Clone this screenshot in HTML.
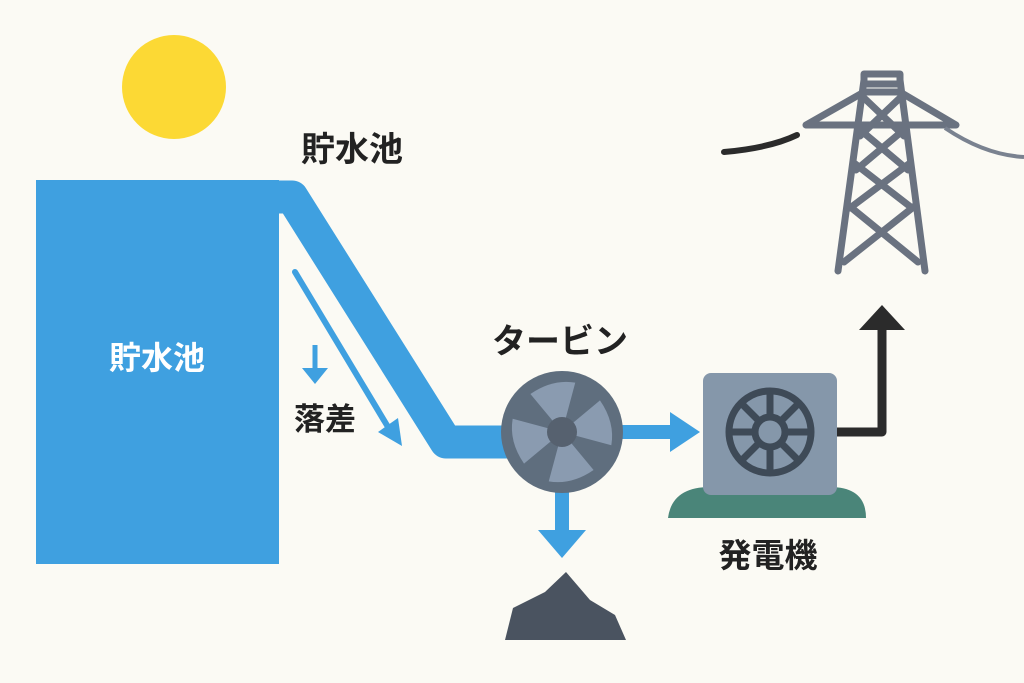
<!DOCTYPE html>
<html><head><meta charset="utf-8"><style>
html,body{margin:0;padding:0;background:#fbfaf4;}
svg{display:block}
text{font-family:"Liberation Sans","Noto Sans CJK JP",sans-serif;font-weight:bold;}
</style></head><body>
<svg width="1024" height="683" viewBox="0 0 1024 683" xmlns="http://www.w3.org/2000/svg">
<rect width="1024" height="683" fill="#fbfaf4"/>
<circle cx="174" cy="87" r="52" fill="#fcd934"/>
<rect x="36" y="180" width="243" height="384" fill="#3fa0e0"/>
<polyline points="250,197 292,197 446,442 520,442" fill="none" stroke="#3fa0e0" stroke-width="33" stroke-linejoin="round"/>
<rect x="262" y="181" width="17" height="383" fill="#3fa0e0"/>
<text x="157" y="369" font-size="32" fill="#fff" text-anchor="middle">貯水池</text>
<text x="352" y="161" font-size="34" fill="#222" text-anchor="middle">貯水池</text>
<line x1="295" y1="272" x2="391" y2="432" stroke="#3fa0e0" stroke-width="6" stroke-linecap="round"/>
<polygon points="378,432 402,446 398,418" fill="#3fa0e0"/>
<line x1="315" y1="345" x2="315" y2="370" stroke="#3fa0e0" stroke-width="5"/>
<polygon points="302,368 328,368 315,384" fill="#3fa0e0"/>
<text x="325" y="430" font-size="31" fill="#222" text-anchor="middle">落差</text>
<text x="560" y="353" font-size="34" fill="#222" text-anchor="middle">タービン</text>
<line x1="620" y1="432" x2="672" y2="432" stroke="#3fa0e0" stroke-width="14"/>
<polygon points="670,412 700,432 670,452" fill="#3fa0e0"/>
<line x1="562" y1="490" x2="562" y2="532" stroke="#3fa0e0" stroke-width="14"/>
<polygon points="538,530 586,530 562,558" fill="#3fa0e0"/>
<circle cx="562" cy="432" r="61" fill="#5f6e7e"/>
<g fill="#8a9bb0">
<path d="M562,432 L536,390 Q560,378 582,385 Z" transform="rotate(-8 562 432)"/>
<path d="M562,432 L536,390 Q560,378 582,385 Z" transform="rotate(82 562 432)"/>
<path d="M562,432 L536,390 Q560,378 582,385 Z" transform="rotate(172 562 432)"/>
<path d="M562,432 L536,390 Q560,378 582,385 Z" transform="rotate(262 562 432)"/>
</g>
<circle cx="562" cy="432" r="15" fill="#56616f"/>
<polygon points="505,640 513,608 545,592 566,572 590,600 615,615 626,640" fill="#4a5360"/>
<path d="M668,518 Q672,487 710,487 L830,487 Q866,487 866,518 Z" fill="#4a8579"/>
<rect x="703" y="373" width="134" height="122" rx="8" fill="#8597aa"/>
<g stroke="#3e4a57" stroke-width="7" fill="none">
<circle cx="770" cy="432" r="41"/>
<circle cx="770" cy="432" r="15"/>
<line x1="770" y1="391" x2="770" y2="417"/><line x1="770" y1="447" x2="770" y2="473"/>
<line x1="729" y1="432" x2="755" y2="432"/><line x1="785" y1="432" x2="811" y2="432"/>
<line x1="741" y1="403" x2="759" y2="421"/><line x1="781" y1="443" x2="799" y2="461"/>
<line x1="799" y1="403" x2="781" y2="421"/><line x1="759" y1="443" x2="741" y2="461"/>
</g>
<polyline points="837,432 882,432 882,328" fill="none" stroke="#2b2b2b" stroke-width="9" stroke-linejoin="round"/>
<polygon points="859,330 905,330 882,305" fill="#2b2b2b"/>
<text x="768" y="567" font-size="33" fill="#222" text-anchor="middle">発電機</text>
<g stroke="#6a7280" stroke-width="7" fill="none" stroke-linecap="round" stroke-linejoin="round">
<polygon points="864,74 900,74 900,84 864,84"/>
<polyline points="806,125 864,92 900,92 956,125 806,125"/>
<line x1="864" y1="80" x2="838" y2="271"/>
<line x1="900" y1="80" x2="925" y2="271"/>
<line x1="862" y1="96" x2="904" y2="136"/><line x1="902" y1="96" x2="860" y2="136"/>
<line x1="858" y1="128" x2="908" y2="170"/><line x1="906" y1="128" x2="856" y2="170"/>
<line x1="854" y1="163" x2="912" y2="208"/><line x1="910" y1="163" x2="850" y2="208"/>
<line x1="848" y1="205" x2="918" y2="262"/><line x1="916" y1="205" x2="844" y2="262"/>
</g>
<path d="M724,152 Q770,148 797,135" fill="none" stroke="#2b2b2b" stroke-width="6" stroke-linecap="round"/>
<path d="M945,128 Q985,155 1024,157" fill="none" stroke="#7a8290" stroke-width="4"/>
</svg>
</body></html>
